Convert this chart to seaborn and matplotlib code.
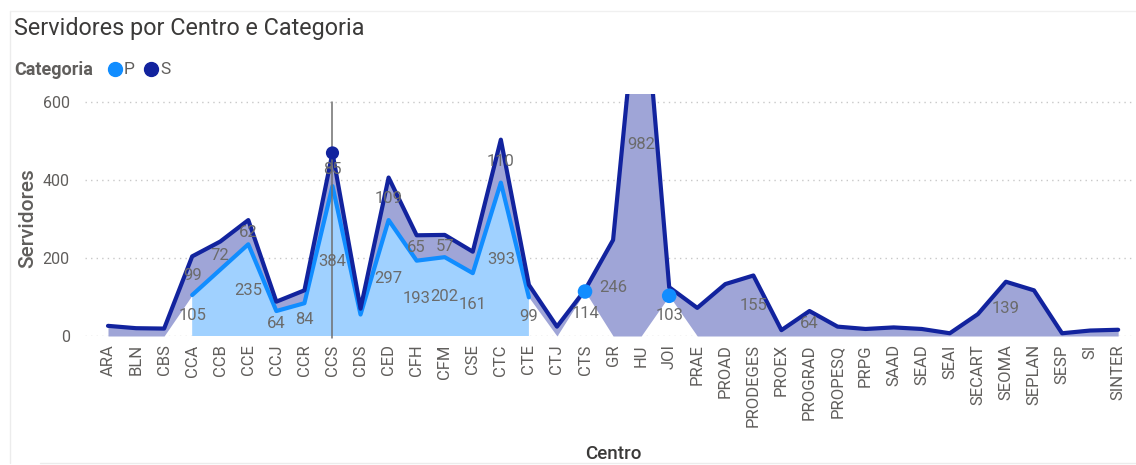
import numpy as np
import pandas as pd
import matplotlib
matplotlib.use("Agg")
import matplotlib.pyplot as plt
from matplotlib.lines import Line2D
import seaborn as sns

# Servidores por centro, separados por categoria (P e S)
centros = ["ARA", "BLN", "CBS", "CCA", "CCB", "CCE", "CCJ", "CCR", "CCS", "CDS",
           "CED", "CFH", "CFM", "CSE", "CTC", "CTE", "CTJ", "CTS", "GR", "HU",
           "JOI", "PRAE", "PROAD", "PRODEGES", "PROEX", "PROGRAD", "PROPESQ",
           "PRPG", "SAAD", "SEAD", "SEAI", "SECART", "SEOMA", "SEPLAN", "SESP",
           "SI", "SINTER"]
nan = np.nan
cat_p = [nan, nan, nan, 105, 170, 235, 64, 84, 384, 55,
         297, 193, 202, 161, 393, 99, nan, 114, nan, nan,
         103, nan, nan, nan, nan, nan, nan,
         nan, nan, nan, nan, nan, nan, nan, nan,
         nan, nan]
cat_s = [26, 20, 19, 99, 72, 62, 24, 33, 85, 15,
         109, 65, 57, 55, 110, 32, 24, 4, 246, 982,
         22, 72, 133, 155, 15, 64, 24,
         18, 22, 18, 7, 56, 139, 117, 7,
         14, 16]

# Rótulos de dados exibidos em cada série
rotulos_p = ["CCA", "CCE", "CCJ", "CCR", "CCS", "CED", "CFH", "CFM", "CSE",
             "CTC", "CTE", "CTS", "JOI"]
rotulos_s = ["CCA", "CCB", "CCE", "CCS", "CED", "CFH", "CFM", "CTC", "GR",
             "HU", "PRODEGES", "PROGRAD", "SEOMA"]
centro_destacado = "CCS"

df = pd.DataFrame({"Centro": centros, "P": cat_p, "S": cat_s})
df["x"] = np.arange(len(df))
df["base"] = df["P"].fillna(0)
df["total"] = df["base"] + df["S"]

COR_P = "#118DFF"
COR_S = "#12239E"
FILL_P = "#A0D1FF"
FILL_S = "#9FA5D7"
TXT = "#3b3a39"
TXT2 = "#605E5C"

sns.set_theme(style="white")
plt.rcParams["font.family"] = ["Roboto", "DejaVu Sans"]

fig = plt.figure(figsize=(11.36, 4.65), dpi=100)
ax = fig.add_axes([85 / 1136, 1 - 336 / 465, 1048 / 1136, 242 / 465])

x = df["x"].to_numpy(float)
p = df["P"].to_numpy(float)
base = df["base"].to_numpy(float)
total = df["total"].to_numpy(float)

# Áreas empilhadas
ax.fill_between(x, 0, p, color=FILL_P, lw=0, zorder=1)
ax.fill_between(x, base, total, color=FILL_S, lw=0, zorder=1)

# Linha da categoria P (trecho contínuo) e pontos isolados
run = df[df["P"].notna() & df["Centro"].isin(centros[3:16])]
sns.lineplot(data=run, x="x", y="P", color=COR_P, lw=3, ax=ax, zorder=3,
             sort=False, legend=False)
iso = df[df["P"].notna() & ~df["Centro"].isin(centros[3:16])]
sns.scatterplot(data=iso, x="x", y="P", color=COR_P, s=110, ax=ax,
                zorder=4, edgecolor="none", legend=False)

# Linha do total (P + S)
sns.lineplot(data=df, x="x", y="total", color=COR_S, lw=3, ax=ax, zorder=3,
             sort=False, legend=False)

# Marcador de foco
i_dest = centros.index(centro_destacado)
ax.axvline(i_dest, ymin=-0.01, ymax=600 / 620, color="#6f6f6f", lw=1.1,
           zorder=5, clip_on=False)
ax.scatter([i_dest], [total[i_dest]], color=COR_S, s=90, zorder=6,
           edgecolor="none")

# Rótulos de dados, no meio de cada faixa
for c in rotulos_p:
    i = centros.index(c)
    ax.text(i, p[i] / 2, f"{int(p[i])}", ha="center", va="center",
            fontsize=12, color="#6b6b6b", zorder=7)
for c in rotulos_s:
    i = centros.index(c)
    ax.text(i, base[i] + cat_s[i] / 2, f"{int(cat_s[i])}", ha="center",
            va="center", fontsize=12, color="#6b6b6b", zorder=7)

ax.set_xlim((85 - 108) / 28.06, (1133 - 108) / 28.06)
ax.set_ylim(0, 620)
ax.set_yticks([0, 200, 400, 600])
ax.set_yticklabels(["0", "200", "400", "600"])
ax.set_xticks(x)
ax.set_xticklabels(centros, rotation=90)
ax.tick_params(axis="x", labelsize=12, labelcolor=TXT2, length=0, pad=6)
ax.tick_params(axis="y", labelsize=11.5, labelcolor=TXT2, length=0, pad=11)
ax.yaxis.grid(True, color="#c8c8c8", lw=1, ls=(0, (1, 3)))
ax.set_axisbelow(True)
for s in ax.spines.values():
    s.set_visible(False)

ax.set_xlabel("Centro", fontsize=13.5, color=TXT, fontweight="medium")
ax.xaxis.set_label_coords((613 - 85) / 1048, -(445 - 336) / 242)
ax.set_ylabel("Servidores", fontsize=15, color=TXT2, fontweight="medium")
ax.yaxis.set_label_coords(-(85 - 37) / 1048, (336 - 218) / 242)

# Título e legenda
fig.text(14 / 1136, 1 - 28 / 465, "Servidores por Centro e Categoria",
         fontsize=16.8, color=TXT, va="center", ha="left")
fig.text(14 / 1136, 1 - 70 / 465, "Categoria", fontsize=13, color=TXT2,
         fontweight="bold", va="center", ha="left")
fig.add_artist(Line2D([115 / 1136], [1 - 69 / 465], marker="o", ms=10,
                      color=COR_P, lw=0))
fig.text(124 / 1136, 1 - 70 / 465, "P", fontsize=12.5, color=TXT2,
         va="center", ha="left")
fig.add_artist(Line2D([151 / 1136], [1 - 69 / 465], marker="o", ms=10,
                      color=COR_S, lw=0))
fig.text(160 / 1136, 1 - 70 / 465, "S", fontsize=12.5, color=TXT2,
         va="center", ha="left")

# Moldura do visual
fig.add_artist(Line2D([10 / 1136, 10 / 1136], [1 - 11 / 465, 1 - 463 / 465],
                      color="#ececec", lw=1))
fig.add_artist(Line2D([10 / 1136, 1], [1 - 11 / 465, 1 - 11 / 465],
                      color="#f0f0f0", lw=1))
fig.add_artist(Line2D([40 / 1136, 1], [1 - 463 / 465, 1 - 463 / 465],
                      color="#ececec", lw=1))

fig.savefig("out.png", dpi=100, facecolor="white")
